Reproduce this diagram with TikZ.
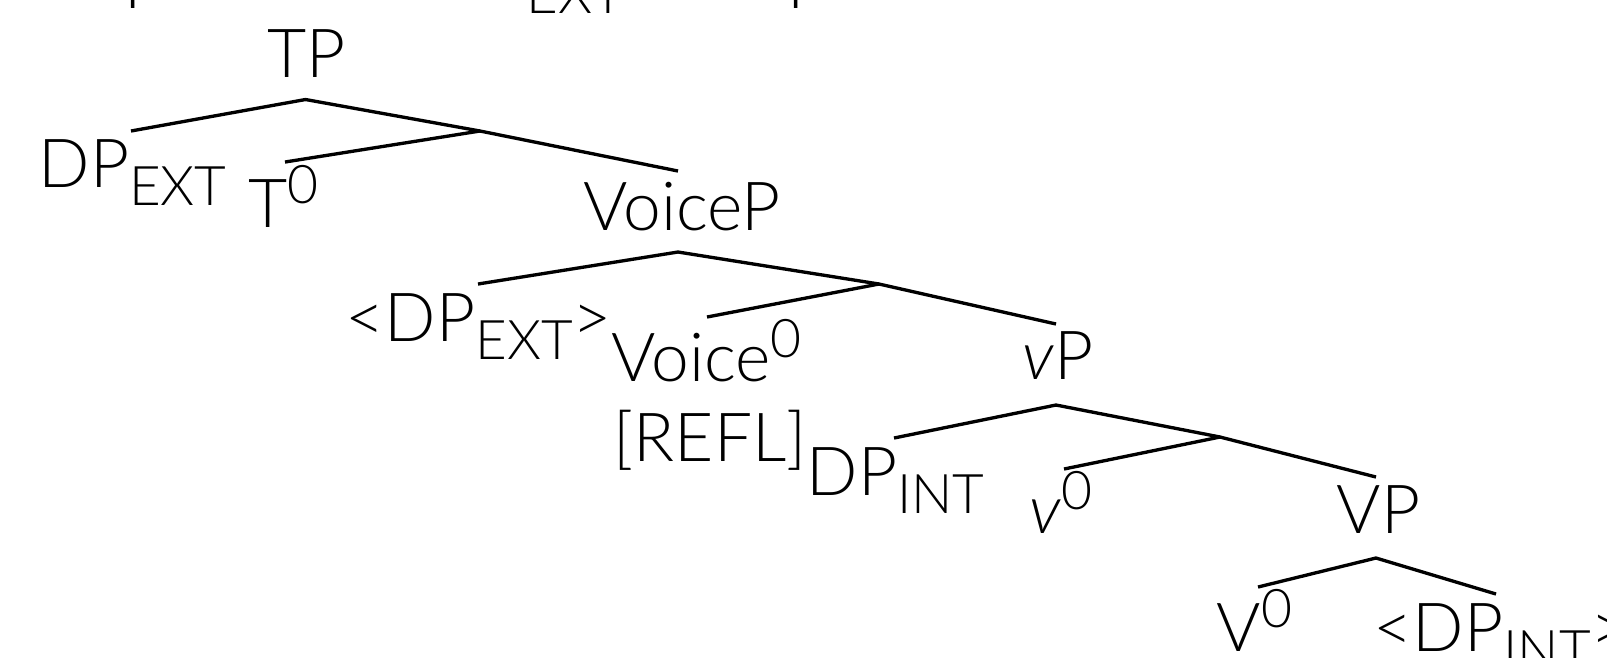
\documentclass[tikz,border=0pt]{standalone}
\usepackage{fontspec}
\setmainfont{Lato Light}
\newcommand{\subt}[1]{\raisebox{-5.4pt}{\fontsize{16.4}{16}\selectfont #1}}
\newcommand{\supt}[1]{\raisebox{7.2pt}{\fontsize{16}{16}\selectfont #1}}
\begin{document}
\begin{tikzpicture}[x=0.3pt,y=-0.3pt,
  lbl/.style={inner sep=0pt, anchor=base west, font=\fontsize{20.3}{24}\selectfont},
  br/.style={line width=1pt, line cap=butt}]
\useasboundingbox (0,0) rectangle (1607,657);
\clip (0,0) rectangle (1607,657);
% fragments of the line above
\node[lbl, anchor=base] (f1) at (133,8) {T};
\node[lbl] (f2) at (526,13) {\fontsize{16.4}{16}\selectfont EXT};
\node[lbl, anchor=base] (f3) at (796,8) {T};
% labels
\node[lbl] (TP) at (267,77) {TP};
\node[lbl] (DPext) at (38,187.6) {DP\subt{EXT}};
\node[lbl] (T0) at (248,227.5) {T\supt{0}};
\node[lbl] (VoiceP) at (583,230.6) {VoiceP};
\node[lbl] (DPext2) at (345,341.3) {<DP\subt{EXT}>};
\node[lbl] (Voice0) at (611,381.3) {Voice\supt{0}};
\node[lbl] (REFL) at (613,461) {[REFL]};
\node[lbl] (vP) at (1022,379) {\textit{v}P};
\node[lbl] (DPint) at (806,495) {DP\subt{INT}};
\node[lbl] (v0) at (1029,533) {\textit{v}\supt{0}};
\node[lbl] (VP) at (1336,533) {VP};
\node[lbl] (V0) at (1216,651) {V\supt{0}};
\node[lbl] (DPint2) at (1373,651) {<DP\subt{INT}>};
% branch points
\coordinate (aTP) at (305.5,99.5);
\coordinate (lDPext) at (131,131);
\coordinate (Tbar) at (480,131);
\coordinate (lT0) at (285,162);
\coordinate (lVoiceP) at (678,171);
\coordinate (aVoiceP) at (678,252);
\coordinate (lDPext2) at (478,284);
\coordinate (Voicebar) at (879,284);
\coordinate (lVoice0) at (707,317);
\coordinate (lvP) at (1056,324);
\coordinate (avP) at (1056,405);
\coordinate (lDPint) at (894,438);
\coordinate (vbar) at (1220,437);
\coordinate (lv0) at (1064,469);
\coordinate (lVP) at (1376,477);
\coordinate (aVP) at (1376,558);
\coordinate (lV0) at (1258,587);
\coordinate (lDPint2) at (1496,594);
% branches
\draw[br] (lDPext) -- (aTP) -- (Tbar) -- (lVoiceP);
\draw[br] (lT0) -- (Tbar);
\draw[br] (lDPext2) -- (aVoiceP) -- (Voicebar) -- (lvP);
\draw[br] (lVoice0) -- (Voicebar);
\draw[br] (lDPint) -- (avP) -- (vbar) -- (lVP);
\draw[br] (lv0) -- (vbar);
\draw[br] (lV0) -- (aVP) -- (lDPint2);
\end{tikzpicture}
\end{document}
